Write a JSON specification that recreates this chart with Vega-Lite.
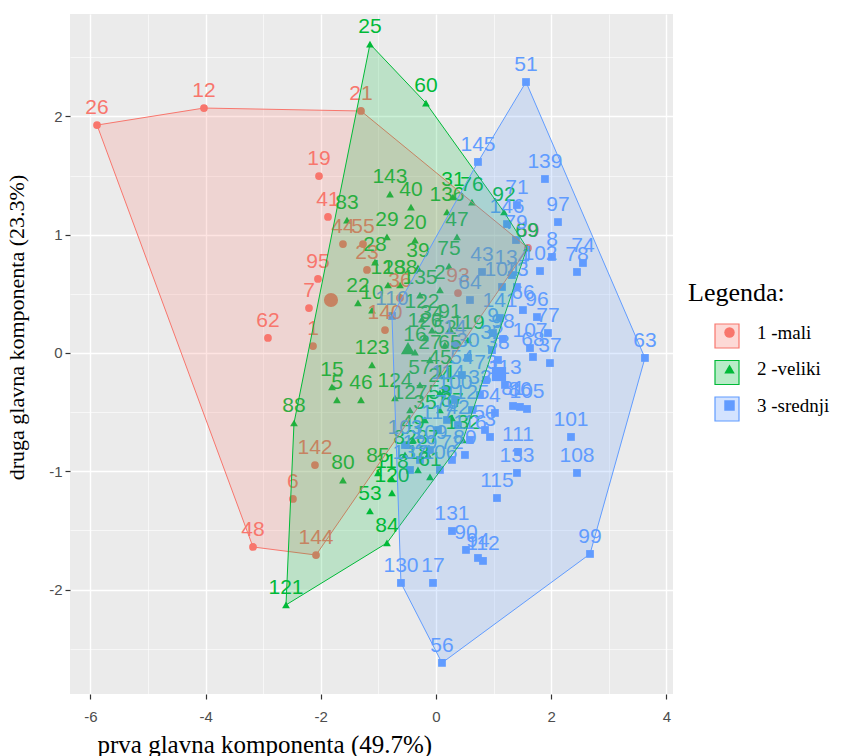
{
  "$schema": "https://vega.github.io/schema/vega-lite/v6.json",
  "width": 603,
  "height": 680,
  "autosize": {"type": "none"},
  "padding": {"left": 70, "top": 14, "right": 175, "bottom": 62},
  "background": "white",
  "config": {
    "view": {"fill": "#EBEBEB", "stroke": null},
    "legend": {
      "orient": "none",
      "legendX": 618,
      "legendY": 266,
      "titleFont": "Liberation Serif",
      "titleFontSize": 26,
      "titleFontWeight": "normal",
      "titleColor": "black",
      "labelFont": "Liberation Serif",
      "labelFontSize": 19,
      "labelColor": "black",
      "padding": 0
    }
  },
  "datasets": {
    "points": [
      {"id": "26", "x": -5.885, "y": 1.927, "cluster": "1 -mali"},
      {"id": "12", "x": -4.028, "y": 2.071, "cluster": "1 -mali"},
      {"id": "21", "x": -1.302, "y": 2.046, "cluster": "1 -mali"},
      {"id": "19", "x": -2.031, "y": 1.496, "cluster": "1 -mali"},
      {"id": "41", "x": -1.875, "y": 1.150, "cluster": "1 -mali"},
      {"id": "44", "x": -1.615, "y": 0.921, "cluster": "1 -mali"},
      {"id": "55", "x": -1.267, "y": 0.921, "cluster": "1 -mali"},
      {"id": "95", "x": -2.049, "y": 0.626, "cluster": "1 -mali"},
      {"id": "7", "x": -2.205, "y": 0.380, "cluster": "1 -mali"},
      {"id": "1", "x": -2.135, "y": 0.059, "cluster": "1 -mali"},
      {"id": "62", "x": -2.917, "y": 0.127, "cluster": "1 -mali"},
      {"id": "142", "x": -2.101, "y": -0.947, "cluster": "1 -mali"},
      {"id": "6", "x": -2.483, "y": -1.234, "cluster": "1 -mali"},
      {"id": "48", "x": -3.177, "y": -1.640, "cluster": "1 -mali"},
      {"id": "144", "x": -2.083, "y": -1.708, "cluster": "1 -mali"},
      {"id": "93", "x": 0.382, "y": 0.507, "cluster": "1 -mali"},
      {"id": "140", "x": -0.885, "y": 0.194, "cluster": "1 -mali"},
      {"id": "59", "x": 1.597, "y": 0.888, "cluster": "1 -mali"},
      {"id": "23", "x": -1.198, "y": 0.702, "cluster": "1 -mali"},
      {"id": "36", "x": -0.625, "y": 0.465, "cluster": "1 -mali"},

      {"id": "25", "x": -1.146, "y": 2.612, "cluster": "2 -veliki"},
      {"id": "60", "x": -0.174, "y": 2.113, "cluster": "2 -veliki"},
      {"id": "143", "x": -0.799, "y": 1.344, "cluster": "2 -veliki"},
      {"id": "40", "x": -0.434, "y": 1.234, "cluster": "2 -veliki"},
      {"id": "31", "x": 0.295, "y": 1.319, "cluster": "2 -veliki"},
      {"id": "76", "x": 0.625, "y": 1.276, "cluster": "2 -veliki"},
      {"id": "92", "x": 1.181, "y": 1.192, "cluster": "2 -veliki"},
      {"id": "136", "x": 0.191, "y": 1.192, "cluster": "2 -veliki"},
      {"id": "47", "x": 0.365, "y": 0.981, "cluster": "2 -veliki"},
      {"id": "83", "x": -1.545, "y": 1.124, "cluster": "2 -veliki"},
      {"id": "29", "x": -0.851, "y": 0.981, "cluster": "2 -veliki"},
      {"id": "20", "x": -0.365, "y": 0.955, "cluster": "2 -veliki"},
      {"id": "28", "x": -1.059, "y": 0.769, "cluster": "2 -veliki"},
      {"id": "39", "x": -0.313, "y": 0.719, "cluster": "2 -veliki"},
      {"id": "75", "x": 0.226, "y": 0.735, "cluster": "2 -veliki"},
      {"id": "2", "x": 0.069, "y": 0.533, "cluster": "2 -veliki"},
      {"id": "22", "x": -1.354, "y": 0.423, "cluster": "2 -veliki"},
      {"id": "10", "x": -1.111, "y": 0.363, "cluster": "2 -veliki"},
      {"id": "122", "x": -0.243, "y": 0.287, "cluster": "2 -veliki"},
      {"id": "91", "x": 0.243, "y": 0.203, "cluster": "2 -veliki"},
      {"id": "119", "x": 0.556, "y": 0.110, "cluster": "2 -veliki"},
      {"id": "123", "x": -1.111, "y": -0.101, "cluster": "2 -veliki"},
      {"id": "15", "x": -1.806, "y": -0.287, "cluster": "2 -veliki"},
      {"id": "5", "x": -1.719, "y": -0.397, "cluster": "2 -veliki"},
      {"id": "46", "x": -1.302, "y": -0.397, "cluster": "2 -veliki"},
      {"id": "124", "x": -0.712, "y": -0.380, "cluster": "2 -veliki"},
      {"id": "88", "x": -2.465, "y": -0.592, "cluster": "2 -veliki"},
      {"id": "80", "x": -1.615, "y": -1.074, "cluster": "2 -veliki"},
      {"id": "85", "x": -1.007, "y": -1.014, "cluster": "2 -veliki"},
      {"id": "118", "x": -0.764, "y": -1.065, "cluster": "2 -veliki"},
      {"id": "120", "x": -0.764, "y": -1.183, "cluster": "2 -veliki"},
      {"id": "53", "x": -1.146, "y": -1.336, "cluster": "2 -veliki"},
      {"id": "84", "x": -0.851, "y": -1.606, "cluster": "2 -veliki"},
      {"id": "121", "x": -2.604, "y": -2.130, "cluster": "2 -veliki"},
      {"id": "61", "x": -0.104, "y": -1.048, "cluster": "2 -veliki"},
      {"id": "132", "x": 0.469, "y": -0.735, "cluster": "2 -veliki"},
      {"id": "69", "x": 1.580, "y": 0.888, "cluster": "2 -veliki"},
      {"id": "126", "x": -0.191, "y": 0.127, "cluster": "2 -veliki"},
      {"id": "16", "x": -0.365, "y": 0.008, "cluster": "2 -veliki"},
      {"id": "27", "x": -0.104, "y": -0.059, "cluster": "2 -veliki"},
      {"id": "45", "x": 0.069, "y": -0.186, "cluster": "2 -veliki"},
      {"id": "57", "x": -0.278, "y": -0.270, "cluster": "2 -veliki"},
      {"id": "11", "x": 0.156, "y": -0.313, "cluster": "2 -veliki"},
      {"id": "127", "x": -0.451, "y": -0.482, "cluster": "2 -veliki"},
      {"id": "35", "x": -0.191, "y": -0.566, "cluster": "2 -veliki"},
      {"id": "58", "x": 0.069, "y": -0.482, "cluster": "2 -veliki"},
      {"id": "49", "x": -0.399, "y": -0.735, "cluster": "2 -veliki"},
      {"id": "87", "x": -0.139, "y": -0.862, "cluster": "2 -veliki"},
      {"id": "18", "x": -0.313, "y": -0.989, "cluster": "2 -veliki"},
      {"id": "82", "x": -0.538, "y": -0.862, "cluster": "2 -veliki"},
      {"id": "65", "x": 0.243, "y": -0.059, "cluster": "2 -veliki"},
      {"id": "52", "x": 0.156, "y": 0.068, "cluster": "2 -veliki"},
      {"id": "34", "x": -0.069, "y": 0.194, "cluster": "2 -veliki"},
      {"id": "138", "x": -0.625, "y": 0.575, "cluster": "2 -veliki"},
      {"id": "135", "x": -0.278, "y": 0.490, "cluster": "2 -veliki"},
      {"id": "128", "x": -0.833, "y": 0.575, "cluster": "2 -veliki"},
      {"id": "24", "x": 0.069, "y": -0.338, "cluster": "2 -veliki"},
      {"id": "67", "x": 0.278, "y": -0.549, "cluster": "2 -veliki"},

      {"id": "51", "x": 1.563, "y": 2.291, "cluster": "3 -srednji"},
      {"id": "145", "x": 0.729, "y": 1.615, "cluster": "3 -srednji"},
      {"id": "139", "x": 1.892, "y": 1.471, "cluster": "3 -srednji"},
      {"id": "71", "x": 1.406, "y": 1.251, "cluster": "3 -srednji"},
      {"id": "146", "x": 1.233, "y": 1.090, "cluster": "3 -srednji"},
      {"id": "97", "x": 2.118, "y": 1.107, "cluster": "3 -srednji"},
      {"id": "74", "x": 2.552, "y": 0.761, "cluster": "3 -srednji"},
      {"id": "78", "x": 2.448, "y": 0.685, "cluster": "3 -srednji"},
      {"id": "8", "x": 2.014, "y": 0.812, "cluster": "3 -srednji"},
      {"id": "102", "x": 1.806, "y": 0.693, "cluster": "3 -srednji"},
      {"id": "43", "x": 0.799, "y": 0.685, "cluster": "3 -srednji"},
      {"id": "104", "x": 1.146, "y": 0.558, "cluster": "3 -srednji"},
      {"id": "134", "x": 1.319, "y": 0.659, "cluster": "3 -srednji"},
      {"id": "13", "x": 1.406, "y": 0.558, "cluster": "3 -srednji"},
      {"id": "96", "x": 1.753, "y": 0.304, "cluster": "3 -srednji"},
      {"id": "66", "x": 1.510, "y": 0.363, "cluster": "3 -srednji"},
      {"id": "107", "x": 1.632, "y": 0.042, "cluster": "3 -srednji"},
      {"id": "68", "x": 1.684, "y": -0.034, "cluster": "3 -srednji"},
      {"id": "77", "x": 1.944, "y": 0.169, "cluster": "3 -srednji"},
      {"id": "37", "x": 1.979, "y": -0.085, "cluster": "3 -srednji"},
      {"id": "63", "x": 3.628, "y": -0.042, "cluster": "3 -srednji"},
      {"id": "32", "x": 0.972, "y": 0.025, "cluster": "3 -srednji"},
      {"id": "4", "x": 1.024, "y": -0.507, "cluster": "3 -srednji"},
      {"id": "81", "x": 1.337, "y": -0.448, "cluster": "3 -srednji"},
      {"id": "86", "x": 1.458, "y": -0.456, "cluster": "3 -srednji"},
      {"id": "105", "x": 1.580, "y": -0.473, "cluster": "3 -srednji"},
      {"id": "3", "x": 0.938, "y": -0.710, "cluster": "3 -srednji"},
      {"id": "111", "x": 1.424, "y": -0.837, "cluster": "3 -srednji"},
      {"id": "133", "x": 1.406, "y": -1.014, "cluster": "3 -srednji"},
      {"id": "101", "x": 2.344, "y": -0.710, "cluster": "3 -srednji"},
      {"id": "108", "x": 2.448, "y": -1.014, "cluster": "3 -srednji"},
      {"id": "115", "x": 1.059, "y": -1.226, "cluster": "3 -srednji"},
      {"id": "131", "x": 0.278, "y": -1.505, "cluster": "3 -srednji"},
      {"id": "90", "x": 0.521, "y": -1.665, "cluster": "3 -srednji"},
      {"id": "94", "x": 0.729, "y": -1.733, "cluster": "3 -srednji"},
      {"id": "112", "x": 0.816, "y": -1.758, "cluster": "3 -srednji"},
      {"id": "130", "x": -0.608, "y": -1.944, "cluster": "3 -srednji"},
      {"id": "17", "x": -0.052, "y": -1.944, "cluster": "3 -srednji"},
      {"id": "56", "x": 0.104, "y": -2.620, "cluster": "3 -srednji"},
      {"id": "99", "x": 2.674, "y": -1.699, "cluster": "3 -srednji"},
      {"id": "110", "x": -0.764, "y": 0.313, "cluster": "3 -srednji"},
      {"id": "103", "x": -0.538, "y": -0.778, "cluster": "3 -srednji"},
      {"id": "109", "x": -0.104, "y": -0.820, "cluster": "3 -srednji"},
      {"id": "54", "x": 0.451, "y": -0.186, "cluster": "3 -srednji"},
      {"id": "73", "x": 0.868, "y": -0.228, "cluster": "3 -srednji"},
      {"id": "100", "x": 0.330, "y": -0.397, "cluster": "3 -srednji"},
      {"id": "125", "x": 0.625, "y": -0.482, "cluster": "3 -srednji"},
      {"id": "70", "x": 0.191, "y": -0.566, "cluster": "3 -srednji"},
      {"id": "106", "x": 0.069, "y": -0.989, "cluster": "3 -srednji"},
      {"id": "9", "x": 0.990, "y": 0.169, "cluster": "3 -srednji"},
      {"id": "98", "x": 1.163, "y": 0.118, "cluster": "3 -srednji"},
      {"id": "38", "x": 1.076, "y": -0.059, "cluster": "3 -srednji"},
      {"id": "79", "x": 1.389, "y": 0.955, "cluster": "3 -srednji"},
      {"id": "64", "x": 0.590, "y": 0.448, "cluster": "3 -srednji"},
      {"id": "14", "x": 0.330, "y": 0.068, "cluster": "3 -srednji"},
      {"id": "30", "x": 0.556, "y": -0.042, "cluster": "3 -srednji"},
      {"id": "33", "x": 0.764, "y": -0.355, "cluster": "3 -srednji"},
      {"id": "42", "x": 0.382, "y": -0.609, "cluster": "3 -srednji"},
      {"id": "116", "x": 0.590, "y": -0.735, "cluster": "3 -srednji"},
      {"id": "50", "x": 0.851, "y": -0.651, "cluster": "3 -srednji"},
      {"id": "72", "x": 0.278, "y": -0.904, "cluster": "3 -srednji"},
      {"id": "89", "x": 0.503, "y": -0.862, "cluster": "3 -srednji"},
      {"id": "113", "x": 1.198, "y": -0.270, "cluster": "3 -srednji"},
      {"id": "114", "x": 0.208, "y": -0.313, "cluster": "3 -srednji"},
      {"id": "117", "x": 0.035, "y": -0.651, "cluster": "3 -srednji"},
      {"id": "129", "x": -0.278, "y": -0.904, "cluster": "3 -srednji"},
      {"id": "137", "x": -0.451, "y": -0.989, "cluster": "3 -srednji"},
      {"id": "141", "x": 1.111, "y": 0.296, "cluster": "3 -srednji"}
    ],
    "centers": [
      {"x": -1.823, "y": 0.448, "cluster": "1 -mali"},
      {"x": -0.486, "y": 0.042, "cluster": "2 -veliki"},
      {"x": 1.094, "y": -0.178, "cluster": "3 -srednji"}
    ],
    "hulls": [
      {"cluster": "1 -mali", "o": 1, "x": -5.885, "y": 1.927},
      {"cluster": "1 -mali", "o": 2, "x": -4.028, "y": 2.071},
      {"cluster": "1 -mali", "o": 3, "x": -1.302, "y": 2.046},
      {"cluster": "1 -mali", "o": 4, "x": 1.597, "y": 0.888},
      {"cluster": "1 -mali", "o": 5, "x": -2.083, "y": -1.708},
      {"cluster": "1 -mali", "o": 6, "x": -3.177, "y": -1.640},
      {"cluster": "1 -mali", "o": 7, "x": -5.885, "y": 1.927},
      {"cluster": "2 -veliki", "o": 1, "x": -1.146, "y": 2.612},
      {"cluster": "2 -veliki", "o": 2, "x": -0.174, "y": 2.113},
      {"cluster": "2 -veliki", "o": 3, "x": 1.181, "y": 1.192},
      {"cluster": "2 -veliki", "o": 4, "x": 1.580, "y": 0.888},
      {"cluster": "2 -veliki", "o": 5, "x": 0.469, "y": -0.735},
      {"cluster": "2 -veliki", "o": 6, "x": -0.851, "y": -1.606},
      {"cluster": "2 -veliki", "o": 7, "x": -2.604, "y": -2.130},
      {"cluster": "2 -veliki", "o": 8, "x": -2.465, "y": -0.592},
      {"cluster": "2 -veliki", "o": 9, "x": -1.146, "y": 2.612},
      {"cluster": "3 -srednji", "o": 1, "x": 1.563, "y": 2.291},
      {"cluster": "3 -srednji", "o": 2, "x": 3.628, "y": -0.042},
      {"cluster": "3 -srednji", "o": 3, "x": 2.674, "y": -1.699},
      {"cluster": "3 -srednji", "o": 4, "x": 0.104, "y": -2.620},
      {"cluster": "3 -srednji", "o": 5, "x": -0.608, "y": -1.944},
      {"cluster": "3 -srednji", "o": 6, "x": -0.764, "y": 0.313},
      {"cluster": "3 -srednji", "o": 7, "x": 0.729, "y": 1.615},
      {"cluster": "3 -srednji", "o": 8, "x": 1.563, "y": 2.291}
    ]
  },
  "encoding": {
    "x": {
      "field": "x",
      "type": "quantitative",
      "scale": {"domain": [-6.354, 4.115], "nice": false, "zero": false},
      "axis": {
        "title": "prva glavna komponenta (49.7%)",
        "values": [-6, -5, -4, -3, -2, -1, 0, 1, 2, 3, 4],
        "labelExpr": "datum.value % 2 == 0 ? '' + datum.value : ''",
        "grid": true,
        "gridColor": "white",
        "gridWidth": {"condition": {"test": "datum.value % 2 == 0", "value": 1.4}, "value": 0.6},
        "tickOpacity": {"condition": {"test": "datum.value % 2 == 0", "value": 1}, "value": 0},
        "domain": false,
        "tickColor": "#333333",
        "tickSize": 5,
        "tickWidth": 1.2,
        "labelColor": "#4D4D4D",
        "labelFontSize": 15,
        "labelFont": "Liberation Sans",
        "labelPadding": 10,
        "titleFont": "Liberation Serif",
        "titleFontSize": 25,
        "titleFontWeight": "normal",
        "titleColor": "black",
        "titleAnchor": "start",
        "titleAlign": "left",
        "titleX": 27,
        "titleY": 58,
        "titleBaseline": "alphabetic"
      }
    },
    "y": {
      "field": "y",
      "type": "quantitative",
      "scale": {"domain": [-2.883, 2.866], "nice": false, "zero": false},
      "axis": {
        "title": "druga glavna komponenta (23.3%)",
        "values": [-2.5, -2, -1.5, -1, -0.5, 0, 0.5, 1, 1.5, 2, 2.5],
        "labelExpr": "datum.value % 1 == 0 ? '' + datum.value : ''",
        "grid": true,
        "gridColor": "white",
        "gridWidth": {"condition": {"test": "datum.value % 1 == 0", "value": 1.4}, "value": 0.6},
        "tickOpacity": {"condition": {"test": "datum.value % 1 == 0", "value": 1}, "value": 0},
        "domain": false,
        "tickColor": "#333333",
        "tickSize": 5,
        "tickWidth": 1.2,
        "labelColor": "#4D4D4D",
        "labelFontSize": 15,
        "labelFont": "Liberation Sans",
        "labelPadding": 3,
        "titleFont": "Liberation Serif",
        "titleFontSize": 22,
        "titleFontWeight": "normal",
        "titleColor": "black",
        "titleAngle": 270,
        "titleAlign": "center",
        "titleBaseline": "alphabetic",
        "titleX": -47,
        "titleY": 313
      }
    }
  },
  "layer": [
    {
      "data": {"name": "points"},
      "mark": {"type": "point", "filled": true, "opacity": 1, "size": 60},
      "encoding": {
        "color": {
          "field": "cluster",
          "type": "nominal",
          "scale": {"domain": ["1 -mali", "2 -veliki", "3 -srednji"], "range": ["#F8766D", "#00BA38", "#619CFF"]},
          "legend": {"title": "Legenda:", "symbolSize": 110, "symbolOffset": 32, "labelOffset": 18, "rowPadding": 16.5, "titlePadding": 17}
        },
        "shape": {
          "field": "cluster",
          "type": "nominal",
          "scale": {"domain": ["1 -mali", "2 -veliki", "3 -srednji"], "range": ["circle", "triangle-up", "square"]},
          "legend": {"title": "Legenda:", "symbolSize": 110, "symbolOffset": 32, "labelOffset": 18, "rowPadding": 16.5, "titlePadding": 17}
        }
      }
    },
    {
      "data": {"name": "centers"},
      "mark": {"type": "point", "filled": true, "opacity": 1, "size": 200},
      "encoding": {
        "color": {"field": "cluster", "type": "nominal", "legend": null},
        "shape": {"field": "cluster", "type": "nominal", "legend": null}
      }
    },
    {
      "data": {"name": "points"},
      "mark": {"type": "text", "fontSize": 21, "font": "Liberation Sans", "baseline": "alphabetic", "dy": -11},
      "encoding": {
        "text": {"field": "id"},
        "color": {"field": "cluster", "type": "nominal", "legend": null}
      }
    },
    {
      "data": {"name": "hulls"},
      "mark": {"type": "line", "strokeWidth": 1, "fillOpacity": 0.2, "strokeOpacity": 1},
      "encoding": {
        "order": {"field": "o", "type": "quantitative"},
        "detail": {"field": "cluster"},
        "stroke": {
          "field": "cluster",
          "type": "nominal",
          "scale": {"range": ["#F8766D", "#00BA38", "#619CFF"]},
          "legend": {"title": "Legenda:", "symbolType": "square", "symbolSize": 576, "symbolStrokeWidth": 1.2, "symbolOffset": 26, "labelOffset": 18, "rowPadding": 6.5, "titlePadding": 17, "titleOpacity": 0, "labelOpacity": 0, "encode": {"symbols": {"update": {"fillOpacity": {"value": 0.28}, "strokeOpacity": {"value": 1}}}}}
        },
        "fill": {
          "field": "cluster",
          "type": "nominal",
          "scale": {"range": ["#F8766D", "#00BA38", "#619CFF"]},
          "legend": {"title": "Legenda:", "symbolType": "square", "symbolSize": 576, "symbolStrokeWidth": 1.2, "symbolOffset": 26, "labelOffset": 18, "rowPadding": 6.5, "titlePadding": 17, "titleOpacity": 0, "labelOpacity": 0, "encode": {"symbols": {"update": {"fillOpacity": {"value": 0.28}, "strokeOpacity": {"value": 1}}}}}
        }
      }
    }
  ]
}
